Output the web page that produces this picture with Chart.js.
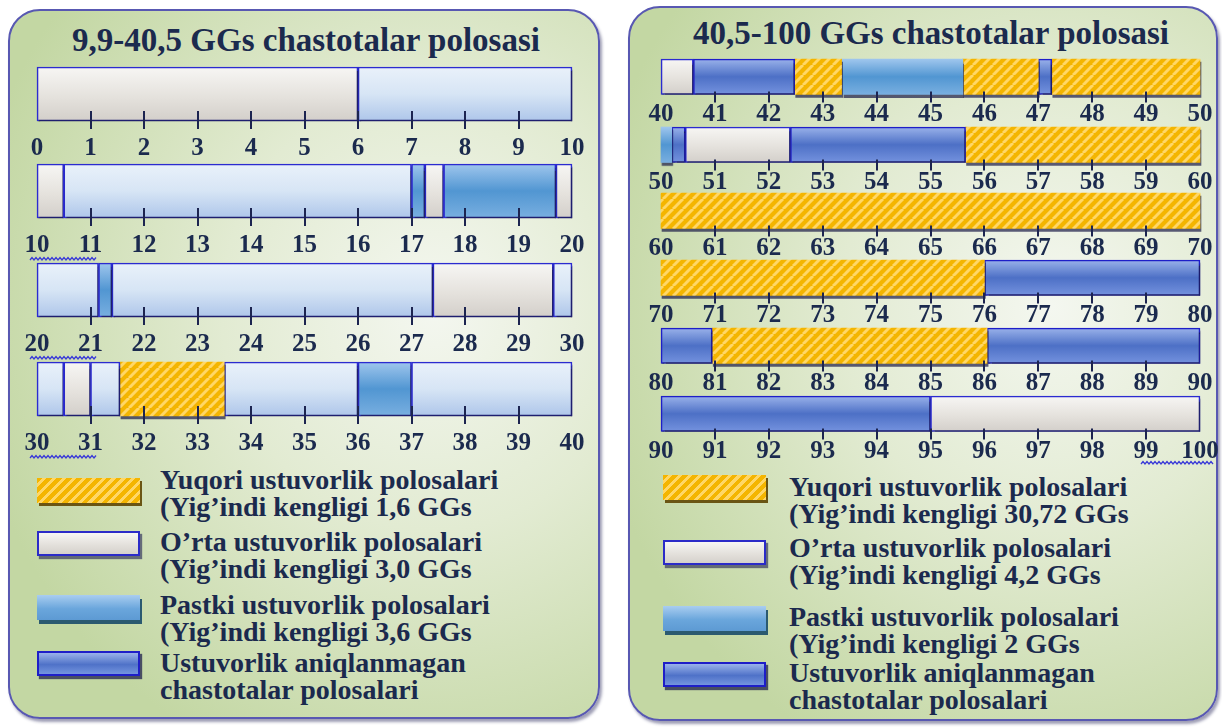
<!DOCTYPE html>
<html>
<head>
<meta charset="UTF-8" />
<title>Chastotalar polosasi</title>
<script src="https://cdn.jsdelivr.net/npm/chart.js"></script>
<style>
  *{box-sizing:border-box}
  body{margin:0;width:1222px;height:728px;background:#fff;position:relative;overflow:hidden;font-family:'Liberation Serif','Times New Roman',serif;}
  .panel{position:absolute;border:2px solid #5858b2;border-radius:32px;
    background:radial-gradient(ellipse 80% 70% at 72% 42%, #f4f7f0 0%, #e2ebd2 45%, #c3d7a3 100%);
    box-shadow:2px 3px 3px rgba(40,40,90,.45);}
  .title{position:absolute;text-align:center;font-weight:700;color:#1b2a4e;font-size:33px;line-height:36px;white-space:nowrap;}
  .row{position:absolute;}
  .sw{position:absolute;width:103px;height:25px;}
  .sw.yuqori{background:repeating-linear-gradient(135deg,#f4b500 0 4px,#ffd766 4px 7px);box-shadow:2px 3px 0 #6a5514;}
  .sw.orta{background:linear-gradient(#f7f6f4,#e2dfda 60%,#d5d1cc);border:2px solid #2b2bc8;box-shadow:2px 3px 1px rgba(30,30,80,.6);}
  .sw.pastki{background:linear-gradient(#a9cdf0,#6aa6dc 55%,#5d9ad3);box-shadow:2px 4px 0 #2b5a70;}
  .sw.aniq{background:linear-gradient(#9ab2ea,#4f72c8 55%,#7494de);border:2px solid #1e1ec8;box-shadow:2px 3px 1px rgba(20,20,70,.7);}
  .lg{position:absolute;font-weight:700;color:#1b2a4e;font-size:28px;line-height:27px;white-space:nowrap;}
  svg.wave{position:absolute;overflow:visible;z-index:5}
</style>
</head>
<body>
<div class="panel" style="left:8px;top:9px;width:592px;height:710px"></div>
<div class="panel" style="left:628px;top:6px;width:590px;height:715px"></div>
<div class="title" id="titleL" style="left:10px;top:22px;width:592px"></div>
<div class="title" id="titleR" style="left:636px;top:15px;width:590px"></div>
<div id="legendL"></div>
<div id="legendR"></div>

<script>
// ---------------- data ----------------
const titleLeft = "9,9-40,5 GGs chastotalar polosasi";
const titleRight = "40,5-100 GGs chastotalar polosasi";

// each row: axis range and segments [from, to, type]
const leftRanges = [[0, 10], [10, 20], [20, 30], [30, 40]];
const leftRow1 = [[0, 6, "orta"], [6, 10, "och"]];
const leftRow2 = [[10, 10.5, "orta"], [10.5, 17, "och"], [17, 17.25, "pastki"], [17.25, 17.6, "orta"], [17.6, 19.7, "pastki"], [19.7, 20, "orta"]];
const leftRow3 = [[20, 21.15, "och"], [21.15, 21.4, "pastki"], [21.4, 27.4, "och"], [27.4, 29.65, "orta"], [29.65, 30, "och"]];
const leftRow4 = [[30, 30.5, "och"], [30.5, 31, "orta"], [31, 31.55, "och"], [31.55, 33.5, "yuqori"], [33.5, 36, "och"], [36, 37, "pastki"], [37, 40, "och"]];

const rightRanges = [[40, 50], [50, 60], [60, 70], [70, 80], [80, 90], [90, 100]];
const rightRow1 = [[40, 40.6, "orta"], [40.6, 42.48, "aniq"], [42.48, 43.35, "yuqori"], [43.35, 45.6, "pastki"], [45.6, 47, "yuqori"], [47, 47.25, "aniq"], [47.25, 50, "yuqori"]];
const rightRow2 = [[50, 50.2, "pastki"], [50.2, 50.45, "aniq"], [50.45, 52.4, "orta"], [52.4, 55.65, "aniq"], [55.65, 60, "yuqori"]];
const rightRow3 = [[60, 70, "yuqori"]];
const rightRow4 = [[70, 76, "yuqori"], [76, 80, "aniq"]];
const rightRow5 = [[80, 80.95, "aniq"], [80.95, 86.05, "yuqori"], [86.05, 90, "aniq"]];
const rightRow6 = [[90, 95, "aniq"], [95, 100, "orta"]];

const legendTypes = ["yuqori", "orta", "pastki", "aniq"];
const legendFirst = ["Yuqori ustuvorlik polosalari", "O’rta ustuvorlik polosalari", "Pastki ustuvorlik polosalari", "Ustuvorlik aniqlanmagan"];
const leftTotals = ["1,6", "3,0", "3,6"];
const rightTotals = ["30,72", "4,2", "2"];
const lastLine = "chastotalar polosalari";

// ---------------- styles ----------------
const ink = "#1b2a4e";
const stops = {
  orta: [[0, "#f7f6f4"], [0.55, "#e5e2dd"], [1, "#d3cfca"]],
  och: [[0, "#e9f1fa"], [0.5, "#d7e5f5"], [1, "#aec6ea"]],
  pastki: [[0, "#9fc6ed"], [0.5, "#5196d2"], [1, "#79afe0"]],
  aniq: [[0, "#9ab2ea"], [0.5, "#4d70c6"], [1, "#7492de"]]
};

function hatch(ctx) {
  const p = document.createElement("canvas");
  p.width = p.height = 10;
  const g = p.getContext("2d");
  g.fillStyle = "#f4b500";
  g.fillRect(0, 0, 10, 10);
  g.strokeStyle = "#ffd766";
  g.lineWidth = 3;
  for (const o of [-10, 0, 10]) {
    g.beginPath(); g.moveTo(o, 10); g.lineTo(o + 10, 0); g.stroke();
  }
  return ctx.createPattern(p, "repeat");
}

function fillFor(chart, type) {
  const a = chart.chartArea;
  if (!a) return "#ccc";
  if (type === "yuqori") return hatch(chart.ctx);
  const g = chart.ctx.createLinearGradient(0, a.top, 0, a.bottom);
  stops[type].forEach(s => g.addColorStop(s[0], s[1]));
  return g;
}

const tickPlugin = {
  id: "tickMarks",
  afterDatasetsDraw(chart, args, o) {
    const { ctx, chartArea, scales: { x } } = chart;
    ctx.save();
    ctx.strokeStyle = "#1c2450";
    ctx.lineWidth = 2;
    x.ticks.forEach(t => {
      if (t.value <= x.min || t.value >= x.max) return;
      const px = Math.round(x.getPixelForValue(t.value));
      ctx.beginPath();
      ctx.moveTo(px, chartArea.bottom - o.up);
      ctx.lineTo(px, chartArea.bottom + o.down);
      ctx.stroke();
    });
    ctx.restore();
  }
};

const shadowPlugin = {
  id: "barShadow",
  beforeDatasetDraw(chart) {
    const c = chart.ctx;
    c.save();
    c.shadowColor = "rgba(25,25,70,0.7)";
    c.shadowOffsetX = 1;
    c.shadowOffsetY = 3;
    c.shadowBlur = 1;
  },
  afterDatasetDraw(chart) { chart.ctx.restore(); }
};

function makeRow(left, top, width, barH, range, segs, cfg) {
  const padX = 28, padTop = 4;
  const fs = 25;
  const axisH = fs + 2 * cfg.pad;
  const wrap = document.createElement("div");
  wrap.className = "row";
  wrap.style.left = (left - padX) + "px";
  wrap.style.top = (top - padTop) + "px";
  const cv = document.createElement("canvas");
  cv.width = width + 2 * padX;
  cv.height = padTop + barH + axisH;
  wrap.appendChild(cv);
  document.body.appendChild(wrap);

  new Chart(cv, {
    type: "bar",
    data: {
      labels: ["r"],
      datasets: segs.map(s => ({
        data: [[s[0], s[1]]],
        backgroundColor: c => fillFor(c.chart, s[2]),
        borderColor: cfg.border[s[2]] ? cfg.border[s[2]] : "rgba(0,0,0,0)",
        borderWidth: cfg.border[s[2]] ? 1.6 : 0,
        borderSkipped: false,
        grouped: false,
        clip: false,
        barPercentage: 1,
        categoryPercentage: 1
      }))
    },
    options: {
      indexAxis: "y",
      responsive: false,
      animation: false,
      events: [],
      layout: { padding: { left: padX, right: padX, top: padTop, bottom: 0 } },
      plugins: {
        legend: { display: false },
        tooltip: { enabled: false },
        tickMarks: { up: cfg.up, down: cfg.down }
      },
      scales: {
        y: { display: false },
        x: {
          type: "linear", min: range[0], max: range[1],
          grid: { display: false, drawTicks: false },
          border: { display: false },
          ticks: {
            stepSize: 1, autoSkip: false, maxRotation: 0, padding: cfg.pad, color: ink,
            font: { family: "'Liberation Serif', 'Times New Roman', serif", size: fs, weight: "bold", lineHeight: 1 }
          }
        }
      }
    },
    plugins: [shadowPlugin, tickPlugin]
  });
}

// ---------------- layout ----------------
document.getElementById("titleL").textContent = titleLeft;
document.getElementById("titleR").textContent = titleRight;

const leftRows = [leftRow1, leftRow2, leftRow3, leftRow4];
const leftTops = [67, 164, 263, 362];
const leftCfg = { pad: 15, up: 10, down: 8, border: { orta: "#2b2bd0", och: "#2b2bd0", pastki: "#2b2bd0" } };
leftRows.forEach((segs, i) => makeRow(37, leftTops[i], 535, 53, leftRanges[i], segs, leftCfg));

const rightRows = [rightRow1, rightRow2, rightRow3, rightRow4, rightRow5, rightRow6];
const rightTops = [59, 127, 193, 260, 328, 396];
const rightCfg = { pad: 8, up: 3, down: 8, border: { orta: "#2b2bd0", aniq: "#1e1ec8" } };
rightRows.forEach((segs, i) => makeRow(661, rightTops[i], 539, 30, rightRanges[i], segs, rightCfg));

function legend(id, swX, swTops, txtX, txtTops, totals) {
  const box = document.getElementById(id);
  legendTypes.forEach((t, i) => {
    const sw = document.createElement("div");
    sw.className = "sw " + t;
    sw.style.left = swX + "px";
    sw.style.top = swTops[i] + "px";
    box.appendChild(sw);
    const tx = document.createElement("div");
    tx.className = "lg";
    tx.style.left = txtX + "px";
    tx.style.top = txtTops[i] + "px";
    const second = i < 3 ? "(Yig’indi kengligi " + totals[i] + " GGs" : lastLine;
    tx.innerHTML = legendFirst[i] + "<br>" + second;
    box.appendChild(tx);
  });
}
legend("legendL", 37, [478, 531, 595, 651], 160, [466, 528, 591, 649], leftTotals);
legend("legendR", 663, [475, 540, 606, 662], 789, [473, 534, 603, 659], rightTotals);

// spell-check style wavy underlines seen under some tick labels
function wave(x, y, w) {
  const ns = "http://www.w3.org/2000/svg";
  const s = document.createElementNS(ns, "svg");
  s.setAttribute("class", "wave");
  s.setAttribute("width", w); s.setAttribute("height", 4);
  s.style.left = x + "px"; s.style.top = y + "px";
  let d = "M0 3";
  for (let i = 2; i <= w; i += 2) d += " L" + i + " " + ((i / 2) % 2 ? 0.5 : 3);
  const p = document.createElementNS(ns, "path");
  p.setAttribute("d", d); p.setAttribute("fill", "none");
  p.setAttribute("stroke", "#3a3ad8"); p.setAttribute("stroke-width", "1.3");
  s.appendChild(p);
  document.body.appendChild(s);
}
wave(30, 257, 66); wave(30, 356, 66); wave(30, 455, 66); wave(1141, 461, 72);
</script>
</body>
</html>
